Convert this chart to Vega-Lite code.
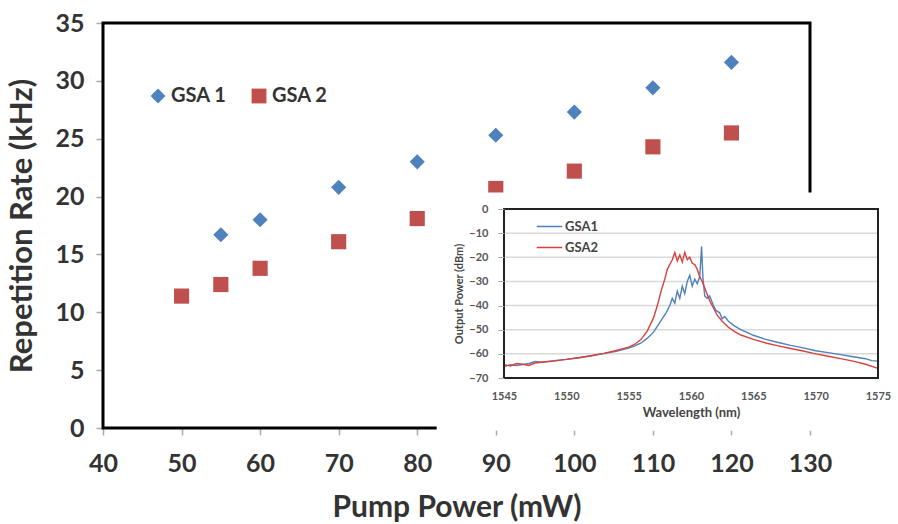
{
  "$schema": "https://vega.github.io/schema/vega-lite/v6.json",
  "width": 707,
  "height": 405,
  "autosize": "none",
  "padding": {"left": 103, "top": 23, "right": 88, "bottom": 96},
  "background": "white",
  "config": {"view": {"stroke": null}, "font": "Lato"},
  "layer": [
    {
      "layer": [
        {
          "data": {"values": [{"a": 1}]},
          "mark": {"type": "rect", "fill": null, "stroke": "black", "strokeWidth": 3},
          "encoding": {
            "x": {"datum": 40, "type": "quantitative",
              "scale": {"domain": [40, 130], "nice": false, "zero": false},
              "axis": {"values": [40, 50, 60, 70, 80, 90, 100, 110, 120, 130], "title": "Pump Power (mW)",
                "grid": false, "domain": false, "tickColor": "#aaa", "tickSize": 7, "tickWidth": 1.5, "labelFlush": false,
                "labelFontSize": 25, "labelColor": "#333", "labelPadding": 16, "labelFontWeight": "bold",
                "titleFontSize": 30, "titleFontWeight": "bold", "titleColor": "#333", "titlePadding": 16}},
            "x2": {"datum": 130},
            "y": {"datum": 0, "type": "quantitative",
              "scale": {"domain": [0, 35], "nice": false, "zero": true},
              "axis": {"values": [0, 5, 10, 15, 20, 25, 30, 35], "title": "Repetition Rate (kHz)",
                "grid": false, "domain": false, "tickColor": "#aaa", "tickSize": 7, "tickWidth": 1.5, "labelFlush": false,
                "labelFontSize": 25, "labelColor": "#333", "labelPadding": 12, "labelFontWeight": "bold",
                "titleFontSize": 31, "titleFontWeight": "bold", "titleColor": "#333", "titlePadding": 16}},
            "y2": {"datum": 35}
          }
        },
        {
          "data": {"values": [
            {"p": 55, "r": 16.7, "s": "GSA 1"},
            {"p": 60, "r": 18.0, "s": "GSA 1"},
            {"p": 70, "r": 20.8, "s": "GSA 1"},
            {"p": 80, "r": 23.0, "s": "GSA 1"},
            {"p": 90, "r": 25.3, "s": "GSA 1"},
            {"p": 100, "r": 27.3, "s": "GSA 1"},
            {"p": 110, "r": 29.4, "s": "GSA 1"},
            {"p": 120, "r": 31.6, "s": "GSA 1"},
            {"p": 50, "r": 11.4, "s": "GSA 2"},
            {"p": 55, "r": 12.4, "s": "GSA 2"},
            {"p": 60, "r": 13.8, "s": "GSA 2"},
            {"p": 70, "r": 16.1, "s": "GSA 2"},
            {"p": 80, "r": 18.1, "s": "GSA 2"},
            {"p": 90, "r": 20.7, "s": "GSA 2"},
            {"p": 100, "r": 22.2, "s": "GSA 2"},
            {"p": 110, "r": 24.3, "s": "GSA 2"},
            {"p": 120, "r": 25.5, "s": "GSA 2"}
          ]},
          "mark": {"type": "point", "filled": true, "opacity": 1, "size": 230},
          "encoding": {
            "x": {"field": "p", "type": "quantitative"},
            "y": {"field": "r", "type": "quantitative"},
            "color": {"field": "s", "type": "nominal",
              "scale": {"domain": ["GSA 1", "GSA 2"], "range": ["#4f81bd", "#c0504d"]},
              "legend": {"orient": "none", "legendX": 45, "legendY": 63, "direction": "horizontal", "title": null,
                "labelFontSize": 20, "labelFontWeight": "bold", "labelColor": "#333", "symbolSize": 220,
                "symbolStrokeWidth": 0, "columnPadding": 22, "labelOffset": 3}},
            "shape": {"field": "s", "type": "nominal",
              "scale": {"domain": ["GSA 1", "GSA 2"], "range": ["diamond", "square"]}}
          }
        }
      ]
    },
    {
      "layer": [
        {
          "data": {"values": [{"x1": 1539.6, "x2": 1577.5, "y1": -91.8, "y2": 6.8}]},
          "mark": {"type": "rect", "fill": "white", "stroke": null},
          "encoding": {
            "x": {"field": "x1", "type": "quantitative",
              "scale": {"domain": [1545, 1575], "range": [401, 775], "nice": false, "zero": false},
              "axis": {"orient": "bottom", "offset": -50, "values": [1545, 1550, 1555, 1560, 1565, 1570, 1575],
                "format": "d", "grid": false, "domain": false, "ticks": false, "zindex": 2, "labelFlush": false,
                "labelFontSize": 11, "labelFontWeight": "bold", "labelColor": "#555", "labelPadding": 12,
                "title": "Wavelength (nm)", "titleFontSize": 13, "titleFontWeight": "bold", "titleColor": "#444", "titlePadding": 5}},
            "x2": {"field": "x2"},
            "y": {"field": "y1", "type": "quantitative",
              "scale": {"domain": [-70, 0], "range": [355, 186], "nice": false, "zero": false},
              "axis": {"orient": "left", "offset": -401, "values": [0, -10, -20, -30, -40, -50, -60, -70],
                "grid": false, "domain": false, "ticks": true, "tickSize": 6, "tickColor": "#aaa", "zindex": 2, "labelFlush": false,
                "labelFontSize": 11, "labelFontWeight": "bold", "labelColor": "#555", "labelPadding": 10,
                "title": "Output Power (dBm)", "titleFontSize": 11, "titleFontWeight": "bold", "titleColor": "#444", "titlePadding": 4}},
            "y2": {"field": "y2"}
          }
        },
        {
          "data": {"values": [{"g": -10}, {"g": -20}, {"g": -30}, {"g": -40}, {"g": -50}, {"g": -60}]},
          "mark": {"type": "rule", "color": "#d9d9d9", "strokeWidth": 1.5},
          "encoding": {
            "y": {"field": "g", "type": "quantitative"},
            "x": {"datum": 1545, "type": "quantitative"},
            "x2": {"datum": 1575}
          }
        },
        {
          "data": {"values": [
            {"wl": 1545, "d": -65.3, "s": "GSA1"}, {"wl": 1545.5, "d": -64.5, "s": "GSA1"}, {"wl": 1546, "d": -64.8, "s": "GSA1"},
            {"wl": 1547, "d": -64.0, "s": "GSA1"}, {"wl": 1547.5, "d": -63.2, "s": "GSA1"}, {"wl": 1548, "d": -63.5, "s": "GSA1"},
            {"wl": 1549, "d": -62.8, "s": "GSA1"}, {"wl": 1550, "d": -62.3, "s": "GSA1"}, {"wl": 1551, "d": -61.6, "s": "GSA1"},
            {"wl": 1552, "d": -60.8, "s": "GSA1"}, {"wl": 1553, "d": -59.9, "s": "GSA1"}, {"wl": 1554, "d": -58.9, "s": "GSA1"},
            {"wl": 1555, "d": -57.6, "s": "GSA1"}, {"wl": 1555.5, "d": -56.7, "s": "GSA1"}, {"wl": 1556, "d": -55.5, "s": "GSA1"},
            {"wl": 1556.5, "d": -53.5, "s": "GSA1"}, {"wl": 1557, "d": -51.0, "s": "GSA1"}, {"wl": 1557.5, "d": -47.0, "s": "GSA1"},
            {"wl": 1558, "d": -43.0, "s": "GSA1"}, {"wl": 1558.3, "d": -40.0, "s": "GSA1"}, {"wl": 1558.5, "d": -37.0, "s": "GSA1"},
            {"wl": 1558.7, "d": -39.0, "s": "GSA1"}, {"wl": 1558.9, "d": -34.0, "s": "GSA1"}, {"wl": 1559.1, "d": -37.0, "s": "GSA1"},
            {"wl": 1559.3, "d": -32.0, "s": "GSA1"}, {"wl": 1559.5, "d": -35.0, "s": "GSA1"}, {"wl": 1559.7, "d": -30.0, "s": "GSA1"},
            {"wl": 1559.9, "d": -27.5, "s": "GSA1"}, {"wl": 1560.1, "d": -32.0, "s": "GSA1"}, {"wl": 1560.3, "d": -29.0, "s": "GSA1"},
            {"wl": 1560.5, "d": -31.0, "s": "GSA1"}, {"wl": 1560.7, "d": -28.0, "s": "GSA1"}, {"wl": 1560.85, "d": -15.5, "s": "GSA1"},
            {"wl": 1560.95, "d": -28.0, "s": "GSA1"}, {"wl": 1561.1, "d": -36.0, "s": "GSA1"}, {"wl": 1561.3, "d": -37.0, "s": "GSA1"},
            {"wl": 1561.5, "d": -36.0, "s": "GSA1"}, {"wl": 1561.8, "d": -40.0, "s": "GSA1"}, {"wl": 1562, "d": -42.0, "s": "GSA1"},
            {"wl": 1562.3, "d": -43.0, "s": "GSA1"}, {"wl": 1562.5, "d": -45.5, "s": "GSA1"}, {"wl": 1562.7, "d": -44.5, "s": "GSA1"},
            {"wl": 1563, "d": -46.5, "s": "GSA1"}, {"wl": 1563.5, "d": -48.5, "s": "GSA1"}, {"wl": 1564, "d": -50.0, "s": "GSA1"},
            {"wl": 1565, "d": -52.3, "s": "GSA1"}, {"wl": 1566, "d": -54.0, "s": "GSA1"}, {"wl": 1567, "d": -55.3, "s": "GSA1"},
            {"wl": 1568, "d": -56.5, "s": "GSA1"}, {"wl": 1569, "d": -57.5, "s": "GSA1"}, {"wl": 1570, "d": -58.7, "s": "GSA1"},
            {"wl": 1571, "d": -59.5, "s": "GSA1"}, {"wl": 1572, "d": -60.3, "s": "GSA1"}, {"wl": 1573, "d": -61.2, "s": "GSA1"},
            {"wl": 1574, "d": -62.0, "s": "GSA1"}, {"wl": 1574.5, "d": -62.8, "s": "GSA1"}, {"wl": 1575, "d": -63.0, "s": "GSA1"},
            {"wl": 1545, "d": -64.5, "s": "GSA2"}, {"wl": 1545.5, "d": -65.0, "s": "GSA2"}, {"wl": 1546, "d": -64.0, "s": "GSA2"},
            {"wl": 1546.5, "d": -64.3, "s": "GSA2"}, {"wl": 1547, "d": -64.8, "s": "GSA2"}, {"wl": 1547.5, "d": -63.8, "s": "GSA2"},
            {"wl": 1548, "d": -63.5, "s": "GSA2"}, {"wl": 1549, "d": -63.0, "s": "GSA2"}, {"wl": 1550, "d": -62.3, "s": "GSA2"},
            {"wl": 1551, "d": -61.6, "s": "GSA2"}, {"wl": 1552, "d": -60.8, "s": "GSA2"}, {"wl": 1553, "d": -59.8, "s": "GSA2"},
            {"wl": 1554, "d": -58.6, "s": "GSA2"}, {"wl": 1555, "d": -57.2, "s": "GSA2"}, {"wl": 1555.5, "d": -56.0, "s": "GSA2"},
            {"wl": 1556, "d": -54.0, "s": "GSA2"}, {"wl": 1556.5, "d": -50.5, "s": "GSA2"}, {"wl": 1557, "d": -45.0, "s": "GSA2"},
            {"wl": 1557.3, "d": -40.0, "s": "GSA2"}, {"wl": 1557.6, "d": -34.0, "s": "GSA2"}, {"wl": 1557.9, "d": -29.0, "s": "GSA2"},
            {"wl": 1558.1, "d": -25.0, "s": "GSA2"}, {"wl": 1558.3, "d": -23.0, "s": "GSA2"}, {"wl": 1558.5, "d": -21.0, "s": "GSA2"},
            {"wl": 1558.7, "d": -18.0, "s": "GSA2"}, {"wl": 1558.9, "d": -21.5, "s": "GSA2"}, {"wl": 1559.1, "d": -19.0, "s": "GSA2"},
            {"wl": 1559.3, "d": -22.0, "s": "GSA2"}, {"wl": 1559.5, "d": -18.0, "s": "GSA2"}, {"wl": 1559.7, "d": -21.0, "s": "GSA2"},
            {"wl": 1559.9, "d": -20.0, "s": "GSA2"}, {"wl": 1560.1, "d": -22.5, "s": "GSA2"}, {"wl": 1560.3, "d": -23.0, "s": "GSA2"},
            {"wl": 1560.5, "d": -25.0, "s": "GSA2"}, {"wl": 1560.7, "d": -28.0, "s": "GSA2"}, {"wl": 1560.9, "d": -30.0, "s": "GSA2"},
            {"wl": 1561.2, "d": -34.0, "s": "GSA2"}, {"wl": 1561.5, "d": -38.0, "s": "GSA2"}, {"wl": 1561.8, "d": -41.0, "s": "GSA2"},
            {"wl": 1562.1, "d": -44.0, "s": "GSA2"}, {"wl": 1562.5, "d": -46.5, "s": "GSA2"}, {"wl": 1563, "d": -49.0, "s": "GSA2"},
            {"wl": 1563.5, "d": -50.8, "s": "GSA2"}, {"wl": 1564, "d": -52.2, "s": "GSA2"}, {"wl": 1565, "d": -54.0, "s": "GSA2"},
            {"wl": 1566, "d": -55.5, "s": "GSA2"}, {"wl": 1567, "d": -56.7, "s": "GSA2"}, {"wl": 1568, "d": -57.8, "s": "GSA2"},
            {"wl": 1569, "d": -58.8, "s": "GSA2"}, {"wl": 1570, "d": -60.0, "s": "GSA2"}, {"wl": 1571, "d": -61.0, "s": "GSA2"},
            {"wl": 1572, "d": -62.0, "s": "GSA2"}, {"wl": 1573, "d": -63.0, "s": "GSA2"}, {"wl": 1574, "d": -64.3, "s": "GSA2"},
            {"wl": 1575, "d": -66.0, "s": "GSA2"}
          ]},
          "mark": {"type": "line", "strokeWidth": 1.4},
          "encoding": {
            "x": {"field": "wl", "type": "quantitative"},
            "y": {"field": "d", "type": "quantitative"},
            "color": {"field": "s", "type": "nominal",
              "scale": {"domain": ["GSA1", "GSA2"], "range": ["#4f81bd", "#d9413b"]},
              "legend": {"orient": "none", "legendX": 433, "legendY": 190, "title": null, "symbolType": "stroke",
                "symbolSize": 650, "symbolStrokeWidth": 1.5, "rowPadding": 0, "labelFontSize": 13,
                "labelFontWeight": "bold", "labelColor": "#444", "labelOffset": 2}}
          }
        },
        {
          "data": {"values": [{"a": 1}]},
          "mark": {"type": "rect", "fill": null, "stroke": "#222", "strokeWidth": 2},
          "encoding": {
            "x": {"datum": 1545, "type": "quantitative"},
            "x2": {"datum": 1575},
            "y": {"datum": -70, "type": "quantitative"},
            "y2": {"datum": 0}
          }
        }
      ]
    }
  ],
  "resolve": {
    "scale": {"x": "independent", "y": "independent", "color": "independent", "shape": "independent"},
    "axis": {"x": "independent", "y": "independent"},
    "legend": {"color": "independent", "shape": "independent"}
  }
}
